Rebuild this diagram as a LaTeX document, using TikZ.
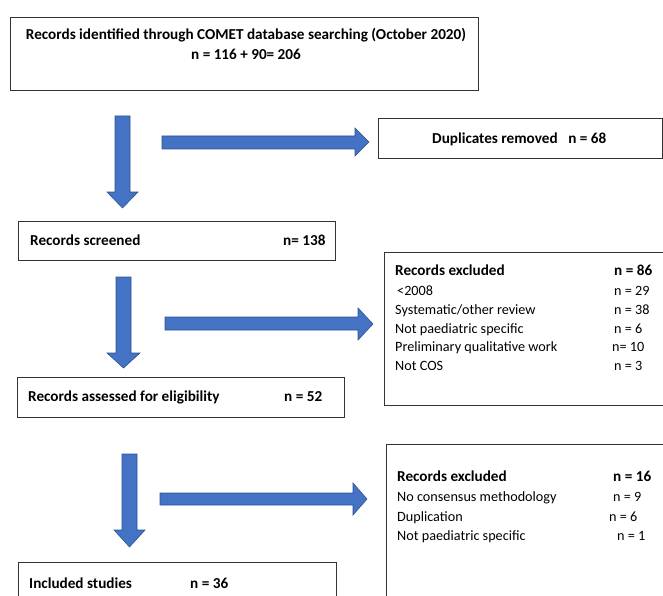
\documentclass[tikz,border=0pt]{standalone}
\usepackage{fontspec}
\setmainfont{Carlito}
\begin{document}
\begin{tikzpicture}[x=1pt,y=-1pt,
  box/.style={draw=black!80, line width=0.9pt, fill=white, anchor=north west, inner sep=0pt},
  barrow/.style={fill=arrowblue, draw=arrowedge, line width=0.6pt, line join=miter},
  txt/.style={anchor=base west, inner sep=0pt, font=\fontsize{14.2}{16}\selectfont},
  btxt/.style={anchor=base west, inner sep=0pt, font=\fontsize{15.2}{17}\selectfont\bfseries}]
\definecolor{arrowblue}{HTML}{4472C4}
\definecolor{arrowedge}{HTML}{2F528F}
\useasboundingbox (0,0) rectangle (663,596);
\begin{scope}
\clip (0,0) rectangle (663,596);
% boxes
\node[box, minimum width=468pt, minimum height=73pt] (top) at (10,17) {};
\node[box, minimum width=284pt, minimum height=40pt] (dup) at (378,118) {};
\node[box, minimum width=317pt, minimum height=39pt] (scr) at (18,221) {};
\node[box, minimum width=290pt, minimum height=153pt] (ex1) at (384,252) {};
\node[box, minimum width=327pt, minimum height=40pt] (ass) at (17,377) {};
\node[box, minimum width=290pt, minimum height=170pt] (ex2) at (386,444) {};
\node[box, minimum width=318pt, minimum height=50pt] (inc) at (18,562) {};
\end{scope}
% texts
\node[btxt, anchor=base] (t1) at (246,40) {Records identified through COMET database searching (October 2020)};
\node[btxt, anchor=base] (t2) at (246,60) {n = 116 + 90= 206};
\node[btxt] (d1) at (432,144) {Duplicates removed\hspace{0.7em}n = 68};
\node[btxt] (s1) at (30,245) {Records screened};
\node[btxt] (s2) at (283,245) {n= 138};
\node[btxt] (e1h) at (395,275) {Records excluded};
\node[btxt] (e1n) at (614,275) {n = 86};
\node[txt] (e1a) at (397,295) {<2008};
\node[txt] (e1an) at (614,295) {n = 29};
\node[txt] (e1b) at (395,314) {Systematic/other review};
\node[txt] (e1bn) at (614,314) {n = 38};
\node[txt] (e1c) at (395,333) {Not paediatric specific};
\node[txt] (e1cn) at (614,333) {n = 6};
\node[txt] (e1d) at (395,351) {Preliminary qualitative work};
\node[txt] (e1dn) at (612,351) {n= 10};
\node[txt] (e1e) at (395,370) {Not COS};
\node[txt] (e1en) at (614,370) {n = 3};
\node[btxt] (a1) at (28,401) {Records assessed for eligibility};
\node[btxt] (a2) at (284,401) {n = 52};
\node[btxt] (e2h) at (397,481) {Records excluded};
\node[btxt] (e2n) at (613,481) {n = 16};
\node[txt] (e2a) at (397,501) {No consensus methodology};
\node[txt] (e2an) at (613,501) {n = 9};
\node[txt] (e2b) at (397,521) {Duplication};
\node[txt] (e2bn) at (609,521) {n = 6};
\node[txt] (e2c) at (397,540) {Not paediatric specific};
\node[txt] (e2cn) at (617,540) {n = 1};
\node[btxt] (i1) at (29,588) {Included studies};
\node[btxt] (i2) at (190,588) {n = 36};
% block arrows
\draw[barrow] (115,116) -- (130,116) -- (130,192) -- (138,192) -- (122.5,208) -- (107,192) -- (115,192) -- cycle;
\draw[barrow] (116,277) -- (131,277) -- (131,353) -- (140,353) -- (123.5,368) -- (107,353) -- (116,353) -- cycle;
\draw[barrow] (122,454) -- (137,454) -- (137,530) -- (145,530) -- (129.5,547) -- (114,530) -- (122,530) -- cycle;
\draw[barrow] (162,136) -- (355,136) -- (355,128) -- (369,142) -- (355,156) -- (355,149) -- (162,149) -- cycle;
\draw[barrow] (165,317) -- (358,317) -- (358,308) -- (373,324) -- (358,340) -- (358,330) -- (165,330) -- cycle;
\draw[barrow] (160,493) -- (353,493) -- (353,483) -- (367,499) -- (353,515) -- (353,505) -- (160,505) -- cycle;
\end{tikzpicture}
\end{document}
